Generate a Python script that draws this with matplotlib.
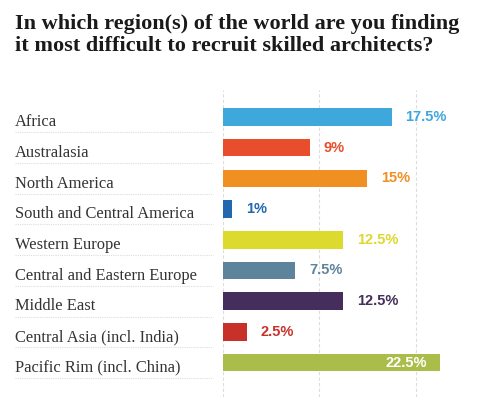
import matplotlib
matplotlib.use("Agg")
import matplotlib.pyplot as plt
import matplotlib.transforms as mtransforms

regions = ["Africa", "Australasia", "North America", "South and Central America",
           "Western Europe", "Central and Eastern Europe", "Middle East",
           "Central Asia (incl. India)", "Pacific Rim (incl. China)"]
values = [17.5, 9, 15, 1, 12.5, 7.5, 12.5, 2.5, 22.5]
colors = ["#3EA8DC", "#E84E2B", "#F08F22", "#2168AE", "#DCD92F",
          "#5E849C", "#452E5B", "#C8312A", "#AABD4A"]
title = "In which region(s) of the world are you finding\nit most difficult to recruit skilled architects?"

W, H = 480, 397
fig = plt.figure(figsize=(W / 100, H / 100), dpi=100)
fig.patch.set_facecolor("white")

x0 = 222.7
ax = fig.add_axes([x0 / W, 0, 1 - x0 / W, (H - 90) / H])
pxper = 9.65
ax.set_xlim(0, (W - x0) / pxper)
step = 30.7
ax.set_ylim((H - 117) / step, -(117 - 90) / step)
ax.axis("off")

for gx in [0, 10, 20]:
    ax.axvline(gx, color="#DDDDDD", lw=0.8, ls=(0, (3, 2)), zorder=0)

ypos = list(range(len(regions)))
ax.barh(ypos, values, height=0.57, color=colors, zorder=2)

for i, (v, c) in enumerate(zip(values, colors)):
    lab = f"{v:g}%"
    if i == len(values) - 1:
        ax.text(v - 13 / pxper, i, lab, color="white", ha="right", va="center",
                fontsize=10.5, fontweight="bold", family="Liberation Sans")
    else:
        ax.text(v + 14 / pxper, i, lab, color=c, ha="left", va="center",
                fontsize=10.5, fontweight="bold", family="Liberation Sans")

trans = mtransforms.blended_transform_factory(fig.transFigure, ax.transData)
for i, r in enumerate(regions):
    fig.text(15 / W, i + 0.17, r, transform=trans, ha="left", va="center",
             fontsize=11.9, family="Liberation Serif", color="#333333")
    ax.plot([15 / W, 213 / W], [i + 0.5, i + 0.5], transform=trans,
            color="#DDDDDD", lw=0.8, ls=(0, (1, 1)), clip_on=False)

fig.text(15 / W, 1 - 14 / H, title, ha="left", va="top", fontsize=16,
         fontweight="bold", family="Liberation Serif", color="#1a1a1a",
         linespacing=1.15)

fig.savefig("out.png", dpi=100)
